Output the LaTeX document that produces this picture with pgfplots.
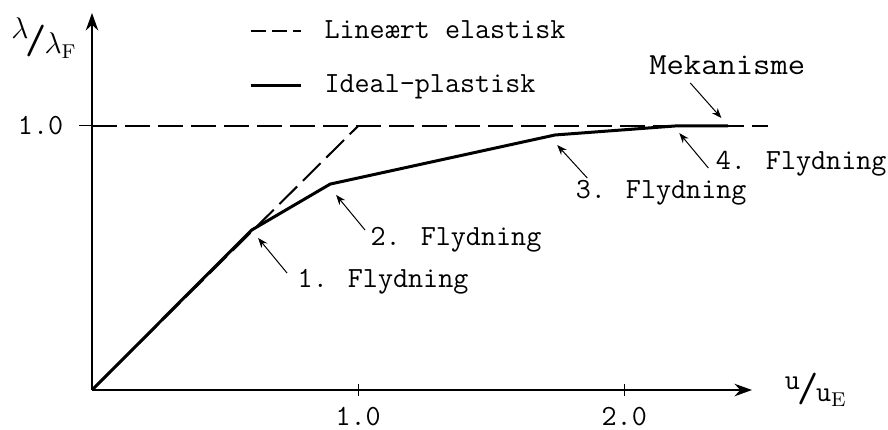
\documentclass[border=0pt]{standalone}
\usepackage{pgfplots}
\pgfplotsset{compat=1.18}
\usetikzlibrary{arrows.meta,calc}
\begin{document}
\begin{tikzpicture}[font=\ttfamily\fontsize{11.7}{14}\selectfont]
\begin{axis}[
  scale only axis,
  width=264pt, height=150.8pt,
  xmin=0, xmax=2.48, ymin=0, ymax=1.428,
  axis lines=left,
  axis line style={line width=0.8pt,-{Stealth[length=7pt,width=5pt]}},
  xtick={1,2}, xticklabels={1.0,2.0},
  ytick={1}, yticklabels={1.0},
  x tick style={line width=0.4pt, black}, y tick style={line width=0.4pt, black},
  xtick align=center, ytick align=outside,
  major tick length=5pt,
  ticklabel style={font=\ttfamily\fontsize{11.7}{14}\selectfont},
  xticklabel style={yshift=-1pt},
  yticklabel style={xshift=-3pt},
  clip=false,
  legend style={at={(axis cs:0.56,1.44)}, anchor=north west, draw=none, fill=none,
    font=\ttfamily\fontsize{11.7}{14}\selectfont, row sep=9pt},
  legend cell align=left,
]
\addplot[black, line width=0.8pt, dash pattern=on 10pt off 3.2pt,
  legend image code/.code={\draw[black,line width=0.8pt,dash pattern=on 6pt off 2.5pt] (0pt,0pt) -- (20pt,0pt); \path (27pt,0pt);}]
  coordinates {(0,0) (1,1)};
\addlegendentry{Lineært elastisk}
\addplot[black, line width=1.2pt,
  legend image code/.code={\draw[black,line width=1.2pt] (0pt,0pt) -- (20pt,0pt); \path (27pt,0pt);}]
  coordinates {(0,0) (0.60,0.606) (0.895,0.78) (1.74,0.966) (2.19,1.0) (2.39,1.0)};
\addlegendentry{Ideal\textendash plastisk}
\addplot[black, line width=0.8pt, dash pattern=on 10pt off 3.2pt, forget plot]
  coordinates {(0,1) (2.54,1)};

\node at (axis cs:2.387,1.231) {\scalebox{1.15}[1.05]{Mekanisme}};
\draw[-{Stealth[length=4pt,width=3pt]}, line width=0.4pt] (axis cs:2.248,1.163) -- (axis cs:2.365,1.030);
\node[anchor=west, inner sep=0pt] at (axis cs:0.771,0.409) {1. Flydning};
\draw[-{Stealth[length=4pt,width=3pt]}, line width=0.4pt] (axis cs:0.733,0.443) -- (axis cs:0.624,0.576);
\node[anchor=west, inner sep=0pt] at (axis cs:1.045,0.568) {2. Flydning};
\draw[-{Stealth[length=4pt,width=3pt]}, line width=0.4pt] (axis cs:1.026,0.606) -- (axis cs:0.917,0.739);
\node[anchor=west, inner sep=0pt] at (axis cs:1.816,0.746) {3. Flydning};
\draw[-{Stealth[length=4pt,width=3pt]}, line width=0.4pt] (axis cs:1.861,0.803) -- (axis cs:1.748,0.928);
\node[anchor=west, inner sep=0pt] at (axis cs:2.342,0.856) {4. Flydning};
\draw[-{Stealth[length=4pt,width=3pt]}, line width=0.4pt] (axis cs:2.316,0.841) -- (axis cs:2.207,0.973);

\node at (axis cs:-0.18,1.333) {\raisebox{6pt}{$\lambda$}\hspace{-1pt}\scalebox{1.4}{/}\hspace{-1pt}$\lambda_{\mathrm F}$};
\node at (axis cs:2.72,0.0) {\raisebox{5pt}{u}\hspace{-1pt}\scalebox{1.4}{/}\hspace{-1pt}u$_{\mathrm E}$};
\coordinate (O) at (axis cs:0,0);
\end{axis}
\pgfresetboundingbox
\path[use as bounding box] ($(O)+(-36.8pt,-15.6pt)$) rectangle ($(O)+(318.4pt,156pt)$);
\end{tikzpicture}
\end{document}
